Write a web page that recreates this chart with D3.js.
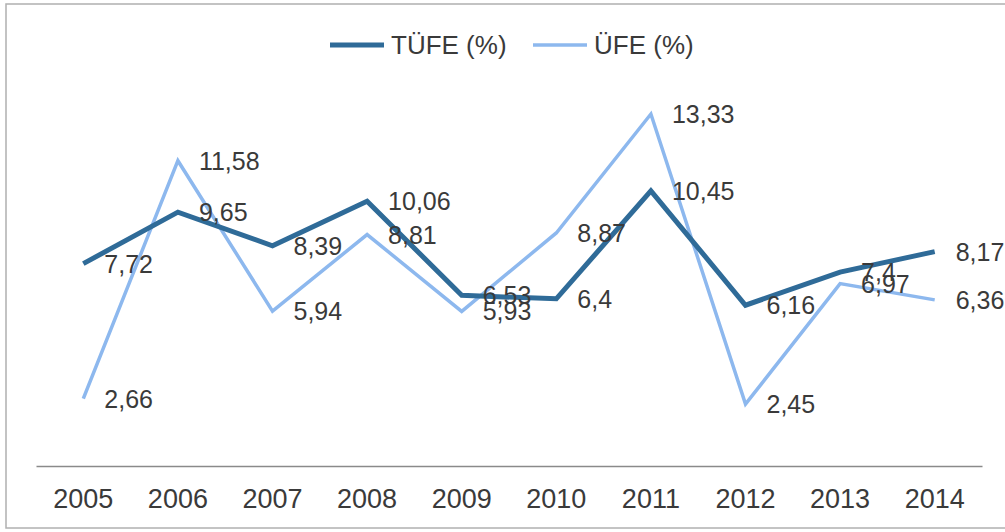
<!doctype html>
<html lang="tr">
  <head>
    <meta charset="utf-8" />
    <title>TÜFE / ÜFE</title>
    <script src="https://d3js.org/d3.v7.min.js"></script>
    <style>
      body { margin: 0; background: #fff; }
      svg { display: block; font-family: "Liberation Sans", Arial, sans-serif; }
    </style>
  </head>
  <body>
    <svg id="chart" width="1005" height="532"></svg>
    <script>
      const years = ['2005', '2006', '2007', '2008', '2009', '2010', '2011', '2012', '2013', '2014'];
      const tufe = [7.72, 9.65, 8.39, 10.06, 6.53, 6.4, 10.45, 6.16, 7.4, 8.17];
      const ufe = [2.66, 11.58, 5.94, 8.81, 5.93, 8.87, 13.33, 2.45, 6.97, 6.36];
      const seriesNames = ['TÜFE (%)', 'ÜFE (%)'];

      const colors = ['#2f6b98', '#8db8ee'];
      const widths = [5, 3.5];
      const textColor = '#3a3a3a';
      const fmt = (v) => String(v).replace('.', ',');

      const svg = d3.select('#chart');

      // outer frame of the scanned chart
      svg.append('rect')
        .attr('x', 6).attr('y', 4).attr('width', 1020).attr('height', 524)
        .style('fill', 'none').style('stroke', '#b0b0b0').style('stroke-width', 1.5);

      const x = d3.scaleBand().domain(years).range([36, 982]);
      const y = d3.scaleLinear().domain([0, 15]).range([469.5, 69.5]);
      const cx = (d) => x(d) + x.bandwidth() / 2;

      // category axis (drawn just above the zero level, like the original)
      const axis = svg.append('g')
        .attr('transform', 'translate(0,466)')
        .call(d3.axisBottom(x).tickSize(0).tickPadding(20));
      axis.select('.domain').style('stroke', '#8a8a8a').style('stroke-width', 1.5);
      axis.selectAll('text')
        .style('font-size', '27px').style('fill', textColor)
        .attr('dy', '0.71em').attr('y', 23);

      const line = d3.line().x((d) => cx(d.year)).y((d) => y(d.value));

      [ufe, tufe].forEach((values, k) => {
        const i = k === 0 ? 1 : 0;
        const pts = years.map((year, j) => ({ year, value: values[j] }));
        svg.append('path')
          .datum(pts)
          .attr('d', line)
          .style('fill', 'none')
          .style('stroke', colors[i])
          .style('stroke-width', widths[i])
          .style('stroke-linejoin', 'miter');
      });

      [tufe, ufe].forEach((values) => {
        svg.append('g')
          .selectAll('text')
          .data(years.map((year, j) => ({ year, value: values[j] })))
          .join('text')
          .attr('x', (d) => cx(d.year) + 21)
          .attr('y', (d) => y(d.value))
          .attr('dy', '0.36em')
          .style('font-size', '25px')
          .style('fill', textColor)
          .text((d) => fmt(d.value));
      });

      // legend
      const legendX = [330, 533];
      const legend = svg.append('g');
      seriesNames.forEach((name, i) => {
        legend.append('line')
          .attr('x1', legendX[i]).attr('x2', legendX[i] + 54)
          .attr('y1', 45).attr('y2', 45)
          .style('stroke', colors[i]).style('stroke-width', widths[i]);
        legend.append('text')
          .attr('x', legendX[i] + 61).attr('y', 45).attr('dy', '0.36em')
          .style('font-size', '26px').style('fill', textColor)
          .text(name);
      });
    </script>
  </body>
</html>
